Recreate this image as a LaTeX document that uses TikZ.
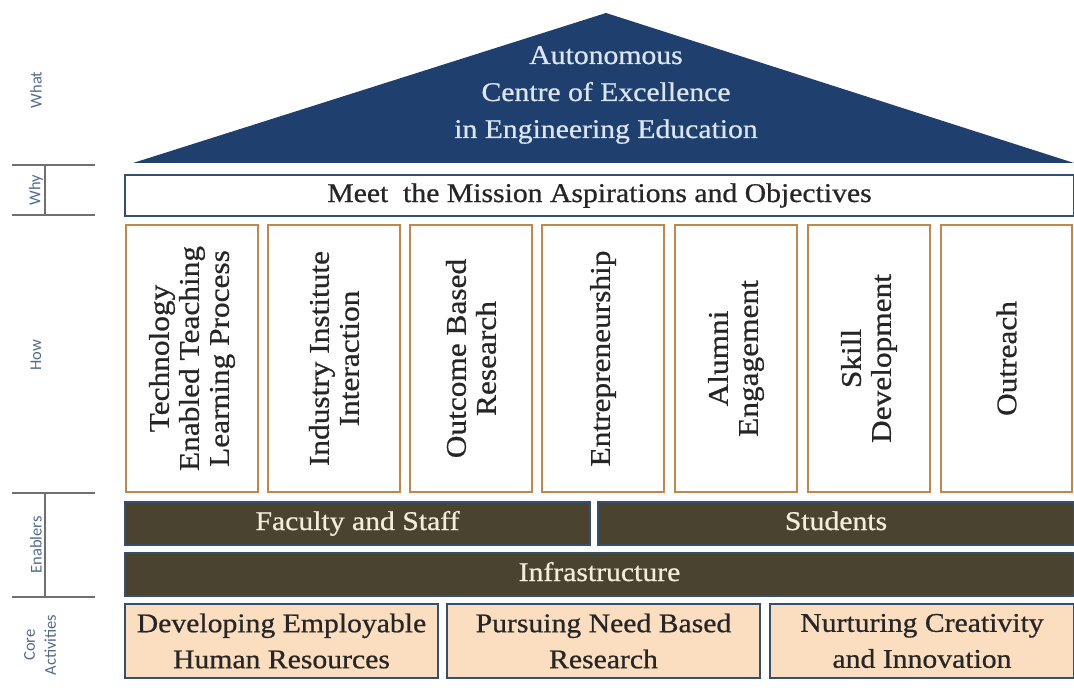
\documentclass[tikz,border=0pt]{standalone}
\usepackage{fontspec}
\setmainfont{Liberation Serif}[FakeStretch=1.1,FakeBold=0.7]
\newfontfamily\labelfont{Carlito}
\definecolor{roofblue}{HTML}{1F3F6E}
\definecolor{roofink}{HTML}{DCE6F2}
\definecolor{edgeblue}{HTML}{34506F}
\definecolor{pillaredge}{HTML}{C4874A}
\definecolor{olive}{HTML}{4A4330}
\definecolor{oliveink}{HTML}{F3EEDC}
\definecolor{peach}{HTML}{FBDDC0}
\definecolor{ink}{HTML}{262626}
\definecolor{tagink}{HTML}{536A8E}
\definecolor{rule}{HTML}{707070}
\begin{document}
\begin{tikzpicture}[x=1pt,y=-1pt,
  every node/.style={inner sep=0pt,outer sep=0pt},
  whybox/.style={draw=edgeblue,line width=2.5pt,fill=white,text=ink,
    text height=19pt,text depth=6pt,
    font=\fontsize{27}{32}\selectfont},
  pillar/.style={draw=pillaredge,line width=2.5pt,fill=white,text=ink,rotate=90,
    align=center,minimum width=267,
    font=\fontsize{28.5}{30}\selectfont},
  enabler/.style={draw=edgeblue,line width=2pt,fill=olive,text=oliveink,
    minimum height=43,text height=19pt,text depth=6pt,
    font=\fontsize{27}{32}\selectfont},
  corebox/.style={draw=edgeblue,line width=2.5pt,fill=peach,text=ink,
    minimum height=74,align=center,font=\fontsize{27}{36}\selectfont},
  tag/.style={rotate=90,text=tagink,align=center,
    font=\labelfont\fontsize{16.5}{21}\selectfont},
  tagrule/.style={draw=rule,line width=1.5pt}]
\useasboundingbox (0,0) rectangle (1074,690);

% roof
\coordinate (roofL) at (133,163);
\coordinate (roofT) at (606,13);
\coordinate (roofR) at (1074,163);
\fill[roofblue] (roofL) -- (roofT) -- (roofR) -- cycle;
\node[text=roofink,align=center,font=\fontsize{27}{37}\selectfont] (what) at (606,95)
  {Autonomous\\Centre of Excellence\\in Engineering Education};

% mission band
\node[whybox,minimum width=949,minimum height=41] (why) at (599.5,195.5)
  {Meet\ \ the Mission Aspirations and Objectives};

% pillars
\node[pillar,minimum height=132] (p1) at (192,358.5) {Technology\\Enabled Teaching\\Learning Process};
\node[pillar,minimum height=132] (p2) at (334,358.5) {Industry Institute\\Interaction};
\node[pillar,minimum height=122] (p3) at (471,358.5) {Outcome Based\\Research};
\node[pillar,minimum height=122] (p4) at (603,358.5) {Entrepreneurship};
\node[pillar,minimum height=122] (p5) at (736,358.5) {Alumni\\Engagement};
\node[pillar,minimum height=122] (p6) at (869,358.5) {Skill\\Development};
\node[pillar,minimum height=131] (p7) at (1006.5,358.5) {Outreach};

% enablers
\node[enabler,minimum width=465] (faculty) at (357.5,523.5) {Faculty and Staff};
\node[enabler,minimum width=476] (students) at (836,523.5) {Students};
\node[enabler,minimum width=949] (infra) at (599.5,574.5) {Infrastructure};

% core activities
\node[corebox,minimum width=313] (c1) at (281.5,641) {Developing Employable\\Human Resources};
\node[corebox,minimum width=313] (c2) at (603.5,641) {Pursuing Need Based\\Research};
\node[corebox,minimum width=304] (c3) at (922,641) {Nurturing Creativity\\and Innovation};

% level labels and the rules between them
\node[tag] (tWhat) at (36,90) {What};
\node[tag] (tWhy) at (36,190) {Why};
\node[tag] (tHow) at (36,355) {How};
\node[tag] (tEn) at (36,545) {Enablers};
\node[tag] (tCore) at (40,645) {Core\\Activities};
\coordinate (r1a) at (12,165); \coordinate (r1b) at (95,165);
\coordinate (r2a) at (12,215); \coordinate (r2b) at (95,215);
\coordinate (r3a) at (12,493); \coordinate (r3b) at (95,493);
\coordinate (r4a) at (12,597); \coordinate (r4b) at (95,597);
\coordinate (v1a) at (45,165); \coordinate (v1b) at (45,215);
\coordinate (v2a) at (45,493); \coordinate (v2b) at (45,597);
\draw[tagrule] (r1a) -- (r1b);
\draw[tagrule] (r2a) -- (r2b);
\draw[tagrule] (r3a) -- (r3b);
\draw[tagrule] (r4a) -- (r4b);
\draw[tagrule] (v1a) -- (v1b);
\draw[tagrule] (v2a) -- (v2b);
\end{tikzpicture}
\end{document}
